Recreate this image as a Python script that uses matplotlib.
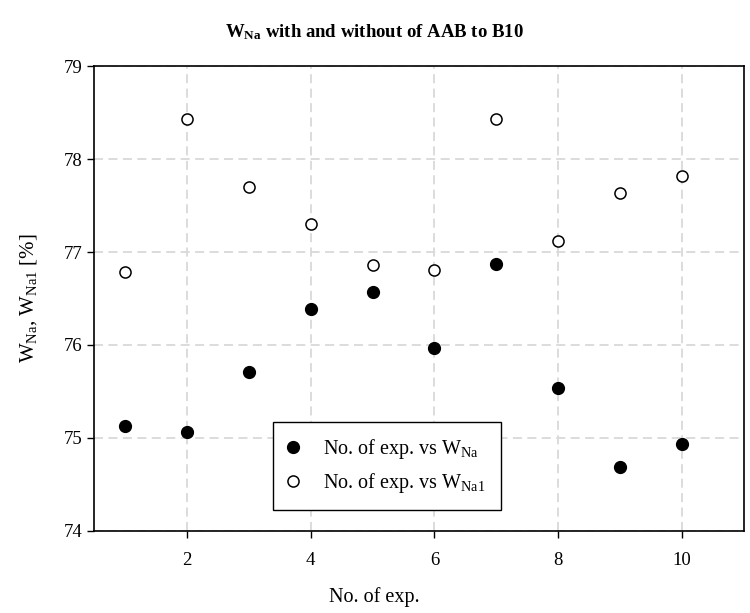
import matplotlib
matplotlib.use("Agg")
import matplotlib.pyplot as plt

exp_no = [1, 2, 3, 4, 5, 6, 7, 8, 9, 10]
w_na = [75.13, 75.06, 75.71, 76.39, 76.57, 75.97, 76.87, 75.54, 74.69, 74.93]
w_na1 = [76.79, 78.43, 77.70, 77.30, 76.86, 76.81, 78.43, 77.12, 77.63, 77.82]
xticks = [2, 4, 6, 8, 10]
yticks = [74, 75, 76, 77, 78, 79]

plt.rcParams['font.family'] = ['Liberation Serif', 'DejaVu Serif']
plt.rcParams['mathtext.fontset'] = 'custom'
plt.rcParams['mathtext.rm'] = 'Liberation Serif'
plt.rcParams['mathtext.it'] = 'Liberation Serif:italic'
plt.rcParams['mathtext.bf'] = 'Liberation Serif:bold'

fig = plt.figure(figsize=(7.5, 6.13), dpi=100)
ax = fig.add_axes([0.1253, 0.1338, 0.8667, 0.7585])

ax.plot(exp_no, w_na, linestyle='none', marker='o', ms=8.5, mfc='black', mec='black',
        label=r'No. of exp. vs W$_{\mathrm{Na}}$', zorder=3)
ax.plot(exp_no, w_na1, linestyle='none', marker='o', ms=8, mfc='white', mec='black', mew=1.1,
        label=r'No. of exp. vs W$_{\mathrm{Na1}}$', zorder=3)

ax.set_xlim(0.5, 11)
ax.set_ylim(74, 79)
ax.set_xticks(xticks)
ax.set_yticks(yticks)
ax.grid(True, linestyle=(0, (5, 3)), color='#d9d9d9', linewidth=1.3)
ax.set_axisbelow(True)
ax.tick_params(axis='both', direction='out', length=5, width=1, labelsize=13.5, colors='black')
ax.tick_params(axis='x', pad=10)
for s in ax.spines.values():
    s.set_linewidth(1.2)
    s.set_color('black')

ax.set_xlabel('No. of exp.', fontsize=14.5, va='center')
ax.xaxis.set_label_coords(0.432, -0.142)
ax.set_ylabel(r'W$_{\mathrm{Na}}$, W$_{\mathrm{Na1}}$ [%]', fontsize=15, va='center')
ax.yaxis.set_label_coords(-0.1, 0.5)
ax.set_title(r'W$_{\mathbf{Na}}$ with and without of AAB to B10', fontsize=13.5,
             fontweight='bold', pad=21, x=0.432)

leg = ax.legend(loc='lower left', bbox_to_anchor=(0.275, 0.045), fontsize=14.5,
                frameon=True, fancybox=False, edgecolor='black', framealpha=1,
                borderpad=0.75, handlelength=0.5, handletextpad=1.25, labelspacing=0.5,
                borderaxespad=0)
leg.get_frame().set_linewidth(1.0)

fig.savefig('out.png', dpi=100)
